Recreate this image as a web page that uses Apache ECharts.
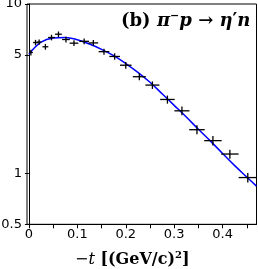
<!DOCTYPE html>
<html><head><meta charset="utf-8">
<script src="https://cdn.jsdelivr.net/npm/echarts@6/dist/echarts.min.js"></script>
<style>html,body{margin:0;padding:0;background:#fff}#c{width:258px;height:269px}</style>
</head><body><div id="c"></div>
<script>
// measured data: -t bin centres, dsigma/dt, half bin widths, errors
const tVals = [0.004,0.0136,0.021,0.034,0.0466,0.061,0.0765,0.093,0.114,0.133,0.155,0.177,0.200,0.228,0.255,0.286,0.316,0.347,0.380,0.415,0.452];
const dsdt  = [5.17,5.92,5.96,5.59,6.34,6.63,6.17,5.87,6.02,5.89,5.23,4.90,4.35,3.72,3.32,2.73,2.34,1.81,1.56,1.30,0.944];
const tHalf = [0.004,0.005,0.005,0.006,0.007,0.007,0.008,0.009,0.010,0.010,0.011,0.011,0.012,0.0135,0.0145,0.015,0.0155,0.016,0.018,0.018,0.019];
const dsErr = [0.20,0.22,0.22,0.22,0.24,0.25,0.24,0.23,0.24,0.23,0.22,0.21,0.20,0.18,0.17,0.15,0.14,0.11,0.10,0.08,0.06];
// fitted curve
const fitT = [0,0.025,0.05,0.075,0.1,0.125,0.15,0.175,0.2,0.225,0.25,0.275,0.3,0.325,0.35,0.375,0.4,0.425,0.45,0.47];
const fitV = [5.05,5.95,6.3,6.35,6.15,5.8,5.4,4.95,4.45,3.95,3.45,2.95,2.52,2.15,1.82,1.55,1.31,1.11,0.95,0.84];
// ticks
const xTickValues = [0,0.05,0.1,0.15,0.2,0.25,0.3,0.35,0.4,0.45];
const xLabelValues = [0,0.1,0.2,0.3,0.4];
const yTickValues = [0.5,1,5,10];

const chart = echarts.init(document.getElementById('c'), null, {renderer:'canvas'});
const errData = tVals.map((t,i)=>[t, dsdt[i], tHalf[i], dsErr[i]]);
const option = {
  animation:false,
  grid:{left:27,right:1.5,top:4,bottom:44.7,show:true,borderColor:'#000',borderWidth:1,backgroundColor:'transparent',outerBoundsMode:'none'},
  xAxis:{type:'value',min:-0.004,max:0.47,
    axisLine:{lineStyle:{color:'#000',width:1}},
    axisTick:{show:true,length:4,lineStyle:{color:'#000'},customValues:xTickValues},
    axisLabel:{color:'#000',fontFamily:'DejaVu Sans',fontSize:13,margin:4,customValues:xLabelValues,formatter:v=>String(+v.toFixed(2))},
    splitLine:{show:false}},
  yAxis:{type:'log',logBase:10,min:0.5,max:10,
    axisLine:{show:true,lineStyle:{color:'#000',width:1}},
    axisTick:{show:true,length:4,lineStyle:{color:'#000'},customValues:yTickValues},
    axisLabel:{color:'#000',fontFamily:'DejaVu Sans',fontSize:13,margin:5,customValues:yTickValues,formatter:v=>String(+(+v).toPrecision(3))},
    splitLine:{show:false}, minorTick:{show:false}},
  series:[
    {type:'line',data:fitT.map((t,i)=>[t,fitV[i]]),smooth:0.4,showSymbol:false,lineStyle:{color:'#0000ff',width:1.5},z:2},
    {type:'custom',z:3,data:errData,renderItem:function(params,api){
      const t=api.value(0),v=api.value(1),h=api.value(2),e=api.value(3);
      const L=api.coord([t-h,v]),R=api.coord([t+h,v]);
      const T=api.coord([t,v+e]),B=api.coord([t,v-e]);
      const st={stroke:'#000',lineWidth:1.3};
      return {type:'group',children:[
        {type:'line',shape:{x1:L[0],y1:L[1],x2:R[0],y2:R[1]},style:st},
        {type:'line',shape:{x1:T[0],y1:T[1],x2:B[0],y2:B[1]},style:st}
      ]};
    }}
  ],
  graphic:[
    {type:'text',left:121,top:11,style:{
      text:'{u|(b) }{m|π}{s|−}{m|p}{u| → }{m|η}{u|′}{m|n}',
      rich:{
        u:{fontFamily:'DejaVu Serif',fontWeight:'bold',fontSize:18,fill:'#000'},
        m:{fontFamily:'DejaVu Serif',fontWeight:'bold',fontStyle:'italic',fontSize:18,fill:'#000'},
        s:{fontFamily:'DejaVu Serif',fontWeight:'bold',fontSize:11,fill:'#000',padding:[0,0,9,0]}
      }}},
    {type:'text',left:75,top:250,style:{
      text:'{u|−}{i|t}{b| [(GeV/c)}{s|2}{b|]}',
      rich:{
        u:{fontFamily:'DejaVu Serif',fontSize:16,fill:'#000'},
        i:{fontFamily:'DejaVu Serif',fontStyle:'italic',fontSize:16,fill:'#000'},
        b:{fontFamily:'DejaVu Serif',fontWeight:'bold',fontSize:16,fill:'#000'},
        s:{fontFamily:'DejaVu Serif',fontWeight:'bold',fontSize:10,fill:'#000',padding:[0,0,9,0]}
      }}}
  ]
};
chart.setOption(option);
</script></body></html>
